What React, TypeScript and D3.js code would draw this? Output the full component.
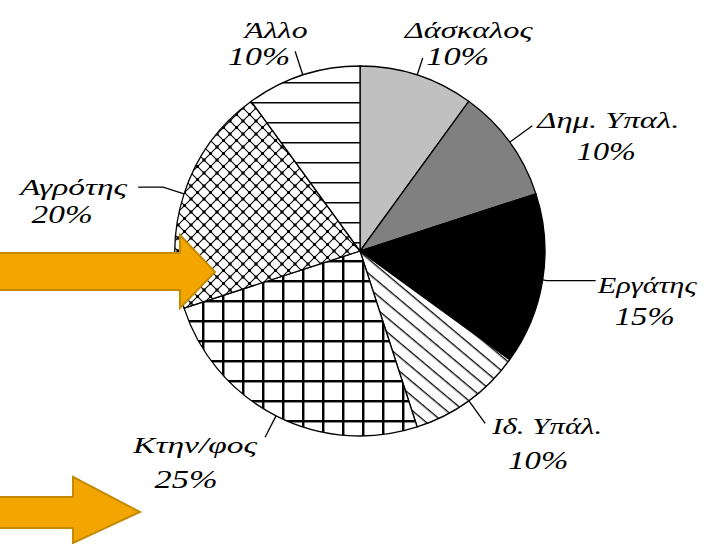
import React from "react";
import * as d3 from "d3";

const width = 705;
const height = 544;
const cx = 360; // pie centre
const cy = 251;
const radius = 185;

// data
const categories = ["Δάσκαλος", "Δημ. Υπαλ.", "Εργάτης", "Ιδ. Υπάλ.", "Κτην/φος", "Αγρότης", "Άλλο"];
const percents = [10, 10, 15, 10, 25, 20, 10];
const pctLabels = ["10%", "10%", "15%", "10%", "25%", "20%", "10%"];

// styles per slice
const fills = ["#c0c0c0", "#808080", "#000000", "url(#pDiag)", "url(#pGrid)", "url(#pCross)", "url(#pHoriz)"];

// label layout: leader length out of the pie, horizontal tail, then text offsets from leader end
const labelLayout = [
  { ext: 18, tail: 0, name: [46, -20, "middle", 128], pct: [35, 7, 63] },
  { ext: 28, tail: 0, name: [5, 2, "start", 142], pct: [74, 34, 59] },
  { ext: 4, tail: 49, name: [2, 12, "start", 99], pct: [49, 44, 60] },
  { ext: 28, tail: 0, name: [7, 11, "start", 110], pct: [53, 46, 60] },
  { ext: 24, tail: 0, name: [-8, 16, "end", 124], pct: [-79, 51, 63] },
  { ext: 22, tail: -25, name: [-11, 8, "end", 107], pct: [-76, 36, 61] },
  { ext: 25, tail: 0, name: [-19, -13, "middle", 63], pct: [-36, 14, 62] },
];

// orange arrows: [shaft top, shaft bottom, head base x, head top, head bottom, tip x, tip y]
const arrows = [
  [253, 290, 180, 235, 308, 215, 272],
  [497, 528, 73, 477, 543, 140, 512],
];

const fontFamily = "'Liberation Serif', 'DejaVu Serif', serif";

const App = () => {
  const pie = d3.pie<number>().sort(null).value((d) => d);
  const arcs = pie(percents);
  const arc = d3.arc<d3.PieArcDatum<number>>().innerRadius(0).outerRadius(radius);

  const pt = (a: number, r: number) => [cx + r * Math.sin(a), cy - r * Math.cos(a)];

  return (
    <svg width={width} height={height} style={{ position: "absolute", left: 0, top: 0, background: "#fff" }}>
      <defs>
        <pattern id="pHoriz" patternUnits="userSpaceOnUse" width={20} height={20} y={11}>
          <rect width={20} height={20} fill="#fff" />
          <line x1={0} x2={20} y1={0.75} y2={0.75} stroke="#000" strokeWidth={1.5} />
        </pattern>
        <pattern id="pGrid" patternUnits="userSpaceOnUse" width={20} height={20} x={2} y={9}>
          <rect width={20} height={20} fill="#fff" />
          <line x1={1.2} x2={1.2} y1={0} y2={20} stroke="#000" strokeWidth={2.5} />
          <line x1={0} x2={20} y1={1.2} y2={1.2} stroke="#000" strokeWidth={2.5} />
        </pattern>
        <pattern id="pCross" patternUnits="userSpaceOnUse" width={13} height={13}>
          <rect width={13} height={13} fill="#fff" />
          <line x1={0} y1={0} x2={13} y2={13} stroke="#000" strokeWidth={1.1} />
          <line x1={13} y1={0} x2={0} y2={13} stroke="#000" strokeWidth={1.1} />
          <rect x={5} y={5} width={3} height={3} fill="#000" />
          <rect x={-1.5} y={-1.5} width={3} height={3} fill="#000" />
          <rect x={11.5} y={-1.5} width={3} height={3} fill="#000" />
          <rect x={-1.5} y={11.5} width={3} height={3} fill="#000" />
          <rect x={11.5} y={11.5} width={3} height={3} fill="#000" />
        </pattern>
        <pattern id="pDiag" patternUnits="userSpaceOnUse" width={11} height={11} patternTransform="rotate(40)">
          <rect width={11} height={11} fill="#fff" />
          <line x1={0} x2={11} y1={0.7} y2={0.7} stroke="#000" strokeWidth={1.3} />
        </pattern>
      </defs>

      <g transform={`translate(${cx},${cy})`}>
        {arcs.map((d, i) => (
          <path key={i} d={arc(d) || ""} fill={fills[i]} stroke="#000" strokeWidth={1.3} />
        ))}
      </g>

      {arcs.map((d, i) => {
        const a = (d.startAngle + d.endAngle) / 2;
        const L = labelLayout[i];
        const p0 = pt(a, radius);
        const p1 = pt(a, radius + L.ext);
        const p2 = [p1[0] + L.tail, p1[1]];
        const [ndx, ndy, anchor, nw] = L.name as [number, number, string, number];
        const [pdx, pdy, pw] = L.pct;
        return (
          <g key={i}>
            <polyline
              points={`${p0[0]},${p0[1]} ${p1[0]},${p1[1]} ${p2[0]},${p2[1]}`}
              fill="none"
              stroke="#000"
              strokeWidth={1.3}
            />
            <text
              x={p2[0] + ndx}
              y={p2[1] + ndy}
              textAnchor={anchor}
              fontFamily={fontFamily}
              fontStyle="italic"
              fontSize={24}
              textLength={nw}
              lengthAdjust="spacingAndGlyphs"
            >
              {categories[i]}
            </text>
            <text
              x={p2[0] + pdx}
              y={p2[1] + pdy}
              textAnchor="middle"
              fontFamily={fontFamily}
              fontStyle="italic"
              fontSize={26}
              textLength={pw}
              lengthAdjust="spacingAndGlyphs"
            >
              {pctLabels[i]}
            </text>
          </g>
        );
      })}

      {arrows.map(([st, sb, hx, ht, hb, tx, ty], i) => (
        <path
          key={i}
          d={`M-5,${st} L${hx},${st} L${hx},${ht} L${tx},${ty} L${hx},${hb} L${hx},${sb} L-5,${sb} Z`}
          fill="#f3a600"
          stroke="#c48a00"
          strokeWidth={2}
          strokeLinejoin="miter"
        />
      ))}
    </svg>
  );
};

export default App;
